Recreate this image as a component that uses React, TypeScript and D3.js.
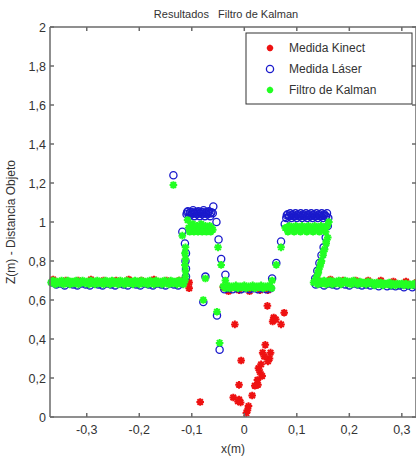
import React from "react";
import * as d3 from "d3";

const titleText = "Resultados   Filtro de Kalman";
const xTicks = [-0.3, -0.2, -0.1, 0, 0.1, 0.2, 0.3];
const yTicks = [0, 0.2, 0.4, 0.6, 0.8, 1, 1.2, 1.4, 1.6, 1.8, 2];
const legendLabels = ["Medida Kinect", "Medida Láser", " Filtro de Kalman"];

// Medida Kinect (red)
const kinect: [number, number][] = [
  [-0.364, 0.705], [-0.34, 0.7], [-0.316, 0.7], [-0.292, 0.705], [-0.268, 0.7], [-0.244, 0.7],
  [-0.22, 0.705], [-0.196, 0.7], [-0.172, 0.705], [-0.148, 0.7], [-0.124, 0.7], [-0.105, 0.69], [-0.105, 0.66],
  [-0.04, 0.665], [-0.03, 0.645], [-0.01, 0.65], [0.01, 0.645], [0.03, 0.65], [0.045, 0.65],
  [0.14, 0.7], [0.164, 0.705], [0.188, 0.7], [0.212, 0.7], [0.236, 0.7], [0.26, 0.7], [0.284, 0.695],
  [0.308, 0.695], [0.328, 0.69],
  [0.044, 0.57], [0.076, 0.535], [0.056, 0.51], [0.054, 0.49], [0.06, 0.5], [0.07, 0.475], [-0.018, 0.475],
  [0.04, 0.37], [0.035, 0.33], [0.05, 0.33], [0.048, 0.3], [0.045, 0.285], [-0.006, 0.29], [0.027, 0.25],
  [0.03, 0.23], [0.034, 0.21], [0.025, 0.19], [0.026, 0.165], [0.02, 0.16], [-0.01, 0.165], [0.015, 0.11],
  [-0.021, 0.1], [-0.01, 0.09], [-0.007, 0.075], [-0.012, 0.08], [-0.084, 0.077], [0.008, 0.056],
  [0.004, 0.02], [0.006, 0.035], [0.032, 0.27], [0.038, 0.31],
];

// Medida Láser (blue)
const laser: [number, number][] = [
  [-0.366, 0.69], [-0.358, 0.68], [-0.35, 0.685], [-0.342, 0.675], [-0.334, 0.685], [-0.326, 0.68],
  [-0.318, 0.675], [-0.31, 0.685], [-0.302, 0.68], [-0.294, 0.675], [-0.286, 0.685], [-0.278, 0.68],
  [-0.27, 0.675], [-0.262, 0.685], [-0.254, 0.68], [-0.246, 0.675], [-0.238, 0.685], [-0.23, 0.68],
  [-0.222, 0.675], [-0.214, 0.685], [-0.206, 0.68], [-0.198, 0.675], [-0.19, 0.685], [-0.182, 0.68],
  [-0.174, 0.675], [-0.166, 0.685], [-0.158, 0.68], [-0.15, 0.675], [-0.142, 0.685], [-0.134, 0.68],
  [-0.126, 0.675], [-0.118, 0.685],
  [-0.111, 0.72], [-0.111, 0.76], [-0.112, 0.8], [-0.111, 0.84], [-0.113, 0.89], [-0.118, 0.95],
  [-0.135, 1.24],
  [-0.11, 1.04], [-0.1075, 1.055], [-0.105, 1.03], [-0.1025, 1.05], [-0.1, 1.04], [-0.0975, 1.06],
  [-0.095, 1.03], [-0.0925, 1.05], [-0.09, 1.04], [-0.0875, 1.055], [-0.085, 1.03], [-0.0825, 1.05],
  [-0.08, 1.04], [-0.0775, 1.06], [-0.075, 1.03], [-0.0725, 1.05], [-0.07, 1.04], [-0.0675, 1.055],
  [-0.065, 1.03], [-0.0625, 1.05], [-0.06, 1.045], [-0.059, 1.08],
  [-0.109, 1.05], [-0.104, 1.045], [-0.099, 1.05], [-0.094, 1.045], [-0.089, 1.05], [-0.084, 1.045],
  [-0.079, 1.05], [-0.074, 1.045], [-0.069, 1.05], [-0.064, 1.045],
  [-0.053, 1.0], [-0.049, 0.91], [-0.044, 0.81], [-0.036, 0.73], [-0.074, 0.72], [-0.078, 0.59], [-0.052, 0.52],
  [-0.047, 0.345],
  [-0.038, 0.655], [-0.03, 0.66], [-0.022, 0.655], [-0.014, 0.66], [-0.006, 0.655], [0.002, 0.66],
  [0.01, 0.655], [0.018, 0.66], [0.026, 0.655], [0.034, 0.66], [0.042, 0.655], [0.05, 0.66],
  [0.053, 0.71], [0.061, 0.79], [0.07, 0.9], [0.077, 0.99],
  [0.08, 1.02], [0.0825, 1.04], [0.085, 1.03], [0.0875, 1.045], [0.09, 1.02], [0.0925, 1.04], [0.095, 1.03],
  [0.0975, 1.045], [0.1, 1.02], [0.1025, 1.04], [0.105, 1.03], [0.1075, 1.045], [0.11, 1.02], [0.1125, 1.04],
  [0.115, 1.03], [0.1175, 1.045], [0.12, 1.02], [0.1225, 1.04], [0.125, 1.03], [0.1275, 1.045], [0.13, 1.02],
  [0.1325, 1.04], [0.135, 1.03], [0.1375, 1.045], [0.14, 1.02], [0.1425, 1.04], [0.145, 1.03], [0.1475, 1.045],
  [0.15, 1.02], [0.1525, 1.04], [0.155, 1.03], [0.1575, 1.045], [0.16, 1.02],
  [0.081, 1.035], [0.086, 1.03], [0.091, 1.035], [0.096, 1.03], [0.101, 1.035], [0.106, 1.03], [0.111, 1.035],
  [0.116, 1.03], [0.121, 1.035], [0.126, 1.03], [0.131, 1.035], [0.136, 1.03], [0.141, 1.035], [0.146, 1.03],
  [0.151, 1.035], [0.156, 1.03],
  [0.159, 0.98], [0.155, 0.92], [0.151, 0.87], [0.147, 0.83], [0.143, 0.79], [0.139, 0.75], [0.135, 0.71],
  [0.136, 0.68], [0.144, 0.685], [0.152, 0.675], [0.16, 0.685], [0.168, 0.68], [0.176, 0.675], [0.184, 0.685],
  [0.192, 0.68], [0.2, 0.675], [0.208, 0.685], [0.216, 0.68], [0.224, 0.675], [0.232, 0.68], [0.24, 0.675],
  [0.248, 0.68], [0.256, 0.67], [0.264, 0.68], [0.272, 0.67], [0.28, 0.675], [0.288, 0.67], [0.296, 0.675],
  [0.304, 0.665], [0.312, 0.675], [0.32, 0.665], [0.328, 0.67],
];

// Filtro de Kalman (green)
const kalman: [number, number][] = [
  [-0.368, 0.69], [-0.364, 0.7], [-0.36, 0.68], [-0.356, 0.695], [-0.352, 0.685], [-0.348, 0.7], [-0.344, 0.68],
  [-0.34, 0.69], [-0.336, 0.7], [-0.332, 0.68], [-0.328, 0.695], [-0.324, 0.685], [-0.32, 0.7], [-0.316, 0.68],
  [-0.312, 0.69], [-0.308, 0.7], [-0.304, 0.685], [-0.3, 0.695], [-0.296, 0.68], [-0.292, 0.7], [-0.288, 0.69],
  [-0.284, 0.68], [-0.28, 0.7], [-0.276, 0.685], [-0.272, 0.695], [-0.268, 0.68], [-0.264, 0.7], [-0.26, 0.69],
  [-0.256, 0.68], [-0.252, 0.7], [-0.248, 0.685], [-0.244, 0.695], [-0.24, 0.68], [-0.236, 0.7], [-0.232, 0.69],
  [-0.228, 0.68], [-0.224, 0.7], [-0.22, 0.685], [-0.216, 0.695], [-0.212, 0.68], [-0.208, 0.7], [-0.204, 0.69],
  [-0.2, 0.68], [-0.196, 0.7], [-0.192, 0.685], [-0.188, 0.695], [-0.184, 0.68], [-0.18, 0.7], [-0.176, 0.69],
  [-0.172, 0.68], [-0.168, 0.7], [-0.164, 0.685], [-0.16, 0.695], [-0.156, 0.68], [-0.152, 0.7], [-0.148, 0.69],
  [-0.144, 0.68], [-0.14, 0.7], [-0.136, 0.685], [-0.132, 0.695], [-0.128, 0.68], [-0.124, 0.7], [-0.12, 0.69],
  [-0.116, 0.68], [-0.113, 0.7],
  [-0.112, 0.72], [-0.112, 0.75], [-0.113, 0.78], [-0.112, 0.81], [-0.113, 0.84], [-0.112, 0.87],
  [-0.118, 0.93], [-0.135, 1.19],
  [-0.108, 1.01], [-0.106, 0.97], [-0.104, 0.95], [-0.102, 0.98], [-0.1, 0.96], [-0.098, 0.99], [-0.096, 0.95],
  [-0.094, 0.97], [-0.092, 0.96], [-0.09, 0.98], [-0.088, 0.95], [-0.086, 0.97], [-0.084, 0.96], [-0.082, 0.99],
  [-0.08, 0.95], [-0.078, 0.97], [-0.076, 0.96], [-0.074, 0.98], [-0.072, 0.95], [-0.07, 0.97], [-0.068, 0.96],
  [-0.066, 0.98], [-0.064, 0.95], [-0.062, 0.97], [-0.06, 0.96],
  [-0.05, 0.87], [-0.044, 0.78], [-0.036, 0.7], [-0.074, 0.71], [-0.078, 0.6], [-0.052, 0.54], [-0.047, 0.38],
  [-0.04, 0.67], [-0.036, 0.66], [-0.032, 0.675], [-0.028, 0.66], [-0.024, 0.67], [-0.02, 0.665], [-0.016, 0.675],
  [-0.012, 0.66], [-0.008, 0.67], [-0.004, 0.665], [0.0, 0.675], [0.004, 0.66], [0.008, 0.67], [0.012, 0.665],
  [0.016, 0.675], [0.02, 0.66], [0.024, 0.67], [0.028, 0.665], [0.032, 0.675], [0.036, 0.66], [0.04, 0.67],
  [0.044, 0.665], [0.048, 0.675], [0.052, 0.66],
  [0.053, 0.7], [0.061, 0.78], [0.07, 0.87], [0.078, 0.97],
  [0.08, 0.97], [0.083, 0.95], [0.086, 0.98], [0.089, 0.96], [0.092, 0.97], [0.095, 0.95], [0.098, 0.98],
  [0.101, 0.96], [0.104, 0.97], [0.107, 0.95], [0.11, 0.98], [0.113, 0.96], [0.116, 0.97], [0.119, 0.95],
  [0.122, 0.98], [0.125, 0.96], [0.128, 0.97], [0.131, 0.95], [0.134, 0.98], [0.137, 0.96], [0.14, 0.97],
  [0.143, 0.95], [0.146, 0.98], [0.149, 0.96], [0.152, 0.97], [0.155, 0.95], [0.158, 0.98], [0.161, 1.0],
  [0.159, 0.92], [0.156, 0.89], [0.153, 0.86], [0.15, 0.83], [0.147, 0.8], [0.144, 0.77], [0.141, 0.74],
  [0.138, 0.72], [0.135, 0.7], [0.156, 0.9], [0.151, 0.85], [0.146, 0.79], [0.141, 0.75],
  [0.132, 0.69], [0.136, 0.7], [0.14, 0.68], [0.144, 0.695], [0.148, 0.685], [0.152, 0.7], [0.156, 0.68],
  [0.16, 0.69], [0.164, 0.7], [0.168, 0.68], [0.172, 0.695], [0.176, 0.685], [0.18, 0.7], [0.184, 0.68],
  [0.188, 0.69], [0.192, 0.7], [0.196, 0.685], [0.2, 0.695], [0.204, 0.68], [0.208, 0.7], [0.212, 0.69],
  [0.216, 0.68], [0.22, 0.695], [0.224, 0.685], [0.228, 0.69], [0.232, 0.68], [0.236, 0.695], [0.24, 0.685],
  [0.244, 0.69], [0.248, 0.675], [0.252, 0.69], [0.256, 0.68], [0.26, 0.69], [0.264, 0.675], [0.268, 0.685],
  [0.272, 0.68], [0.276, 0.69], [0.28, 0.675], [0.284, 0.685], [0.288, 0.675], [0.292, 0.685], [0.296, 0.68],
  [0.3, 0.685], [0.304, 0.675], [0.308, 0.685], [0.312, 0.675], [0.316, 0.68], [0.32, 0.675], [0.324, 0.685],
  [0.328, 0.675],
];

const W = 416;
const H = 459;
const left = 50;
const right = 416;
const top = 27;
const bottom = 417;

const RED = "#ee1111";
const BLUE = "#1a1acc";
const GREEN = "#22ff22";
const AXIS = "#6a6a6a";
const FONT = "'Liberation Sans Narrow', 'Arial Narrow', 'Liberation Sans', Arial, sans-serif";

function Star({ x, y, color, s = 3.8, w = 2 }: { x: number; y: number; color: string; s?: number; w?: number }) {
  const d = s * 0.72;
  return (
    <path
      d={`M${x - s},${y}L${x + s},${y}M${x},${y - s}L${x},${y + s}M${x - d},${y - d}L${x + d},${y + d}M${x - d},${y + d}L${x + d},${y - d}`}
      stroke={color}
      strokeWidth={w}
      fill="none"
    />
  );
}

const fmt = (v: number) => {
  const s = Math.abs(v) < 1e-9 ? "0" : String(+v.toFixed(1));
  return s.replace(".", ",");
};

export default function App() {
  const x = d3.scaleLinear().domain([-0.37, 0.327]).range([left, right]);
  const y = d3.scaleLinear().domain([0, 2]).range([bottom, top]);
  const tl = 4;
  return (
    <svg
      width={W}
      height={H}
      style={{ position: "absolute", left: 0, top: 0, background: "#fff" }}
      fontFamily={FONT}
    >
      <rect x={0} y={0} width={W} height={H} fill="#fff" />
      <g>
        {kinect.map(([a, b], i) => (
          <Star key={"k" + i} x={x(a)} y={y(b)} color={RED} />
        ))}
        {laser.map(([a, b], i) => (
          <circle key={"l" + i} cx={x(a)} cy={y(b)} r={3.6} fill="none" stroke={BLUE} strokeWidth={1.3} />
        ))}
        {kalman.map(([a, b], i) => (
          <Star key={"g" + i} x={x(a)} y={y(b)} color={GREEN} />
        ))}
      </g>
      <g stroke={AXIS} strokeWidth={1.5} fill="none">
        <line x1={left} y1={top} x2={left} y2={bottom} />
        <line x1={left} y1={bottom} x2={right} y2={bottom} />
        <line x1={left} y1={top} x2={right} y2={top} />
        <line x1={right} y1={top} x2={right} y2={bottom} />
        {xTicks.map((t) => (
          <g key={"xt" + t}>
            <line x1={x(t)} x2={x(t)} y1={bottom} y2={bottom - tl} />
            <line x1={x(t)} x2={x(t)} y1={top} y2={top + tl} />
          </g>
        ))}
        {yTicks.map((t) => (
          <g key={"yt" + t}>
            <line x1={left} x2={left + tl} y1={y(t)} y2={y(t)} />
            <line x1={right} x2={right - tl} y1={y(t)} y2={y(t)} />
          </g>
        ))}
      </g>
      <g fontSize={12.5} fill="#333">
        {xTicks.map((t) => (
          <text key={"xl" + t} x={x(t)} y={bottom + 17} textAnchor="middle">
            {fmt(t)}
          </text>
        ))}
        {yTicks.map((t) => (
          <text key={"yl" + t} x={left - 4} y={y(t) + 4.5} textAnchor="end">
            {fmt(t)}
          </text>
        ))}
      </g>
      <text x={226} y={18} textAnchor="middle" fontSize={11} fill="#333" style={{ whiteSpace: "pre" }}>
        {titleText}
      </text>
      <text x={233} y={453} textAnchor="middle" fontSize={12} fill="#333">
        x(m)
      </text>
      <text
        transform={`translate(15,${(top + bottom) / 2}) rotate(-90)`}
        textAnchor="middle"
        fontSize={12}
        fill="#333"
      >
        Z(m) - Distancia Objeto
      </text>
      <g>
        <rect x={246} y={33} width={166} height={71} fill="#fff" stroke="#333" strokeWidth={1} />
        <Star x={270} y={48} color={RED} s={3.2} />
        <circle cx={270} cy={69} r={3.6} fill="none" stroke={BLUE} strokeWidth={1.3} />
        <Star x={270} y={90} color={GREEN} s={3.2} />
        <g fontSize={12} fill="#333" style={{ whiteSpace: "pre" }}>
          <text x={289} y={52}>{legendLabels[0]}</text>
          <text x={289} y={73}>{legendLabels[1]}</text>
          <text x={289} y={94}>{legendLabels[2]}</text>
        </g>
      </g>
    </svg>
  );
}
